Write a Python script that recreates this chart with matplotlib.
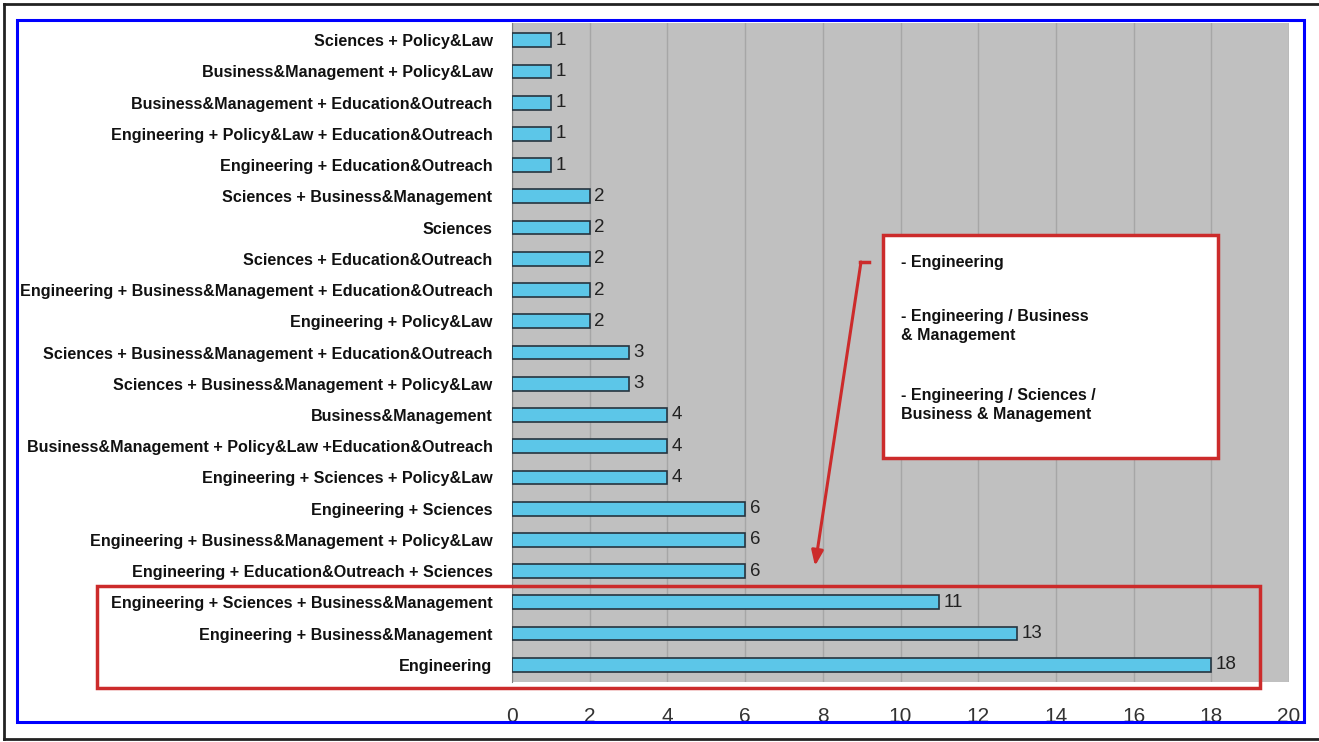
import matplotlib.pyplot as plt
from matplotlib.patches import Rectangle
from matplotlib.lines import Line2D

plt.rcParams['font.family'] = ['Liberation Sans', 'DejaVu Sans']

# categories listed bottom-up (barh index 0 is at the bottom)
categories = [
    "Engineering",
    "Engineering + Business&Management",
    "Engineering + Sciences + Business&Management",
    "Engineering + Education&Outreach + Sciences",
    "Engineering + Business&Management + Policy&Law",
    "Engineering + Sciences",
    "Engineering + Sciences + Policy&Law",
    "Business&Management + Policy&Law +Education&Outreach",
    "Business&Management",
    "Sciences + Business&Management + Policy&Law",
    "Sciences + Business&Management + Education&Outreach",
    "Engineering + Policy&Law",
    "Engineering + Business&Management + Education&Outreach",
    "Sciences + Education&Outreach",
    "Sciences",
    "Sciences + Business&Management",
    "Engineering + Education&Outreach",
    "Engineering + Policy&Law + Education&Outreach",
    "Business&Management + Education&Outreach",
    "Business&Management + Policy&Law",
    "Sciences + Policy&Law",
]
counts = [18, 13, 11, 6, 6, 6, 4, 4, 4, 3, 3, 2, 2, 2, 2, 2, 1, 1, 1, 1, 1]
xticks = [0, 2, 4, 6, 8, 10, 12, 14, 16, 18, 20]

box_entries = ["- Engineering",
               "- Engineering / Business\n& Management",
               "- Engineering / Sciences /\nBusiness & Management"]
box_entry_y = [255, 309, 388]   # top of each entry, pixels from the top

W, H = 1319, 742
fig = plt.figure(figsize=(W / 100, H / 100), dpi=100)
fig.patch.set_facecolor('white')

ax = fig.add_axes([512 / W, 1 - 682 / H, (1289 - 512) / W, (682 - 23) / H])
ax.set_facecolor('#c0c0c0')

ypos = list(range(len(categories)))
ax.barh(ypos, counts, height=0.44, color='#5cc6e8', edgecolor='#26343f',
        linewidth=1.2, zorder=3)
for y, v in zip(ypos, counts):
    ax.text(v + 0.12, y, str(v), va='center', ha='left', fontsize=13.5,
            color='#222222', zorder=4)

ax.set_xlim(0, 20)
ax.set_ylim(-0.55, len(categories) - 0.45)
ax.set_xticks(xticks)
ax.set_xticklabels([str(t) for t in xticks], fontsize=15, color='#333333')
ax.set_yticks(ypos)
ax.set_yticklabels(categories, fontsize=11.6, fontweight='bold', color='#111111')
ax.tick_params(axis='both', length=0)
ax.tick_params(axis='x', pad=18)
ax.tick_params(axis='y', pad=14)
ax.grid(axis='x', color='#a6a6a6', linewidth=1, zorder=1)
for s in ['top', 'right', 'bottom']:
    ax.spines[s].set_visible(False)
ax.spines['left'].set_color('#808080')
ax.spines['left'].set_linewidth(0.8)

# frames around the figure
fig.add_artist(Rectangle((17 / W, 1 - 722 / H), (1304 - 17) / W, (722 - 20) / H,
                         transform=fig.transFigure, fill=False,
                         edgecolor='#0000ff', linewidth=2.2))
fig.add_artist(Line2D([4 / W, 1], [1 - 4 / H, 1 - 4 / H], transform=fig.transFigure,
                      color='#222222', linewidth=2))
fig.add_artist(Line2D([4 / W, 4 / W], [1 - 4 / H, 1 - 739 / H], transform=fig.transFigure,
                      color='#222222', linewidth=2))
fig.add_artist(Line2D([4 / W, 1], [1 - 739 / H, 1 - 739 / H], transform=fig.transFigure,
                      color='#222222', linewidth=2))

red = '#cc2b2b'
# red box around the top three categories
fig.add_artist(Rectangle((97 / W, 1 - 688 / H), (1260 - 97) / W, (688 - 586) / H,
                         transform=fig.transFigure, fill=False,
                         edgecolor=red, linewidth=2.5, zorder=5))

# callout box
fig.add_artist(Rectangle((883 / W, 1 - 458 / H), (1218 - 883) / W, (458 - 235) / H,
                         transform=fig.transFigure, facecolor='white',
                         edgecolor=red, linewidth=2.5, zorder=5))
for txt, ty in zip(box_entries, box_entry_y):
    fig.text(901 / W, 1 - ty / H, txt, ha='left', va='top',
             fontsize=11.5, fontweight='bold', color='#111111', linespacing=1.35,
             zorder=6)

# arrow from callout to the highlighted bars
fig.add_artist(Line2D([860 / W, 869 / W], [1 - 262 / H, 1 - 262 / H],
                      transform=fig.transFigure, color=red, linewidth=2.5, zorder=5))
ax.annotate("", xy=(815 / W, 1 - 566 / H), xycoords='figure fraction',
            xytext=(861 / W, 1 - 262 / H), textcoords='figure fraction',
            arrowprops=dict(arrowstyle='-|>,head_length=0.9,head_width=0.35',
                            color=red, linewidth=2.2, shrinkA=0, shrinkB=0),
            zorder=6)

fig.savefig('out.png', dpi=100)
